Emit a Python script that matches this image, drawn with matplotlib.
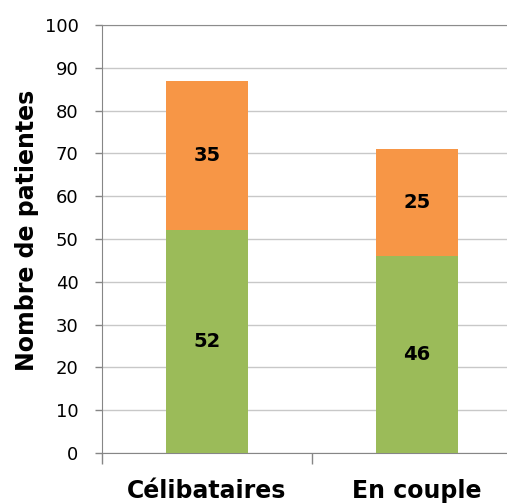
import matplotlib
matplotlib.use("Agg")
import matplotlib.pyplot as plt

categories = ["Célibataires", "En couple"]
bottom_vals = [52, 46]
top_vals = [35, 25]

fig = plt.figure(figsize=(5.07, 5.03), dpi=100)
ax = fig.add_axes([102 / 507, 1 - 453 / 503, 420 / 507, 428 / 503])

x = list(range(len(categories)))
ax.bar(x, bottom_vals, width=0.39, color="#9BBB59", zorder=3)
ax.bar(x, top_vals, width=0.39, bottom=bottom_vals, color="#F79646", zorder=3)

for i in x:
    ax.text(i, bottom_vals[i] / 2, str(bottom_vals[i]), ha="center", va="center",
            fontsize=14, fontweight="bold", zorder=4)
    ax.text(i, bottom_vals[i] + top_vals[i] / 2, str(top_vals[i]), ha="center",
            va="center", fontsize=14, fontweight="bold", zorder=4)

ax.set_xlim(-0.5, 1.5)
ax.set_ylim(0, 100)
ax.set_yticks(range(0, 101, 10))
ax.yaxis.grid(True, color="#C8C8C8", linewidth=1, zorder=0)
ax.set_axisbelow(True)

ax.set_xticks(x)
ax.set_xticklabels(categories, fontsize=17, fontweight="bold")
ax.set_xticks([-0.5, 0.5, 1.5], minor=True)
ax.tick_params(axis="x", which="major", length=0, pad=19)
ax.tick_params(axis="x", which="minor", length=8, color="#868686", width=1)
ax.tick_params(axis="y", length=5, color="#868686", width=1, labelsize=13, pad=12)

ax.spines["right"].set_visible(False)
ax.spines["top"].set_color("#8C8C8C")
ax.spines["left"].set_color("#868686")
ax.spines["bottom"].set_color("#868686")

ax.set_ylabel("Nombre de patientes", fontsize=17, fontweight="bold", labelpad=4, y=0.52)

fig.savefig("out.png", dpi=100)
